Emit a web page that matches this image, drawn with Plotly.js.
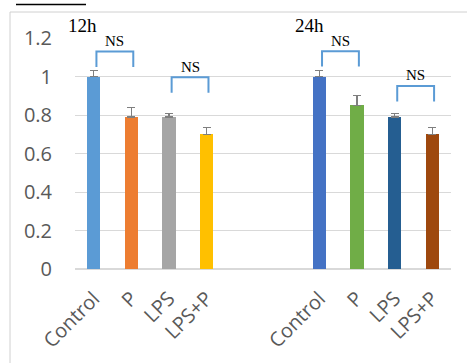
<!DOCTYPE html>
<html>
<head>
<meta charset="utf-8">
<script src="https://cdn.plot.ly/plotly-3.0.1.min.js"></script>
<style>html,body{margin:0;padding:0;background:#fff;}#chart{width:467px;height:363px;}</style>
</head>
<body>
<div id="chart"></div>
<script>
// ---- data ----
const groups = ["12h", "24h"];
const categories = ["Control", "P", "LPS", "LPS+P"];
const positions12h = [0, 1, 2, 3];
const positions24h = [6, 7, 8, 9];
const values12h = [1.00, 0.79, 0.79, 0.70];
const errors12h = [0.03, 0.05, 0.02, 0.035];
const values24h = [1.00, 0.85, 0.79, 0.70];
const errors24h = [0.03, 0.05, 0.02, 0.035];
const colors12h = ["#5B9BD5", "#ED7D31", "#A5A5A5", "#FFC000"];
const colors24h = ["#4472C4", "#70AD47", "#255E91", "#9E480E"];
const yTickVals = [0, 0.2, 0.4, 0.6, 0.8, 1, 1.2];
const yTickText = ["0", "0.2", "0.4", "0.6", "0.8", "1", "1.2"];
// significance brackets: [from index, to index, top y, label]
const brackets = [
  {a: 0, b: 1, top: 1.13, label: "NS"},
  {a: 2, b: 3, top: 0.996, label: "NS"},
  {a: 6, b: 7, top: 1.132, label: "NS"},
  {a: 8, b: 9, top: 0.951, label: "NS"}
];

const zeros = [0, 0, 0, 0];
function barTrace(name, x, y, err, colors) {
  return {
    type: "bar", name: name, x: x, y: y, width: 0.35,
    marker: {color: colors, line: {width: 0}},
    error_y: {type: "data", array: err, arrayminus: zeros, symmetric: false,
              color: "#7F7F7F", thickness: 1.2, width: 4},
    hoverinfo: "skip"
  };
}
const traces = [
  barTrace(groups[0], positions12h, values12h, errors12h, colors12h),
  barTrace(groups[1], positions24h, values24h, errors24h, colors24h)
];

const shapes = [];
const annotations = [];
const legDrop = 0.08;
brackets.forEach(br => {
  const x0 = br.a + 0.07, x1 = br.b + 0.05;
  shapes.push({type: "path", xref: "x", yref: "y",
    path: `M ${x0},${br.top - legDrop} L ${x0},${br.top} L ${x1},${br.top} L ${x1},${br.top - legDrop}`,
    line: {color: "#5B9BD5", width: 2}});
  annotations.push({x: (x0 + x1) / 2, y: br.top + 0.055, xref: "x", yref: "y",
    text: br.label, showarrow: false, xanchor: "center", yanchor: "middle",
    font: {family: "Liberation Serif", size: 15, color: "#000"}});
});
annotations.push({x: -0.3, y: 1.056, xref: "x", yref: "paper", text: groups[0], showarrow: false,
  xanchor: "center", yanchor: "middle",
  font: {family: "Liberation Serif", size: 19, color: "#000"}});
annotations.push({x: 5.74, y: 1.052, xref: "x", yref: "paper", text: groups[1], showarrow: false,
  xanchor: "center", yanchor: "middle",
  font: {family: "Liberation Serif", size: 19, color: "#000"}});

// frame lines and cut-off underline at top
shapes.push({type: "line", xref: "paper", yref: "paper",
  x0: (10 - 75) / 376, x1: (467 - 75) / 376, y0: (269 - 12) / 231, y1: (269 - 12) / 231,
  line: {color: "#D0D0D0", width: 1}});
shapes.push({type: "line", xref: "paper", yref: "paper",
  x0: (10 - 75) / 376, x1: (10 - 75) / 376, y0: (269 - 12) / 231, y1: (269 - 363) / 231,
  line: {color: "#D0D0D0", width: 1}});
shapes.push({type: "line", xref: "paper", yref: "paper",
  x0: (16 - 75) / 376, x1: (86 - 75) / 376, y0: (269 - 4.5) / 231, y1: (269 - 4.5) / 231,
  line: {color: "#000", width: 1.5}});

const layout = {
  width: 467, height: 363,
  margin: {l: 75, r: 16, t: 38, b: 94},
  paper_bgcolor: "#fff", plot_bgcolor: "#fff",
  showlegend: false,
  bargap: 0,
  xaxis: {
    range: [-0.5, 9.5], tickvals: positions12h.concat(positions24h),
    ticktext: categories.concat(categories), tickangle: -45,
    showgrid: false, zeroline: false, showline: false, ticks: "",
    ticklabelstandoff: 13,
    tickfont: {family: "Open Sans", size: 20, color: "#595959"}
  },
  yaxis: {
    range: [0, 1.2005], tickvals: yTickVals, ticktext: yTickText,
    showgrid: true, gridcolor: "#D9D9D9", gridwidth: 1,
    zeroline: true, zerolinecolor: "#D9D9D9", zerolinewidth: 1.5,
    showline: false, ticks: "", ticklabelstandoff: 22,
    tickfont: {family: "Open Sans", size: 20, color: "#595959"}
  },
  shapes: shapes,
  annotations: annotations
};

Plotly.newPlot("chart", traces, layout, {displayModeBar: false, staticPlot: true});
</script>
</body>
</html>
